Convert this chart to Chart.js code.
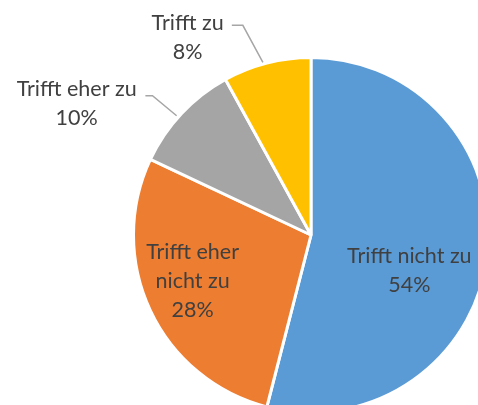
<!DOCTYPE html>
<html lang="de">
<head>
    <meta charset="UTF-8">
    <title>Kreisdiagramm</title>
    <script src="https://cdn.jsdelivr.net/npm/chart.js"></script>
    <style>
        html, body {
            margin: 0;
            padding: 0;
            width: 478px;
            height: 405px;
            overflow: hidden;
            background: #ffffff;
        }

        .chart-box {
            position: absolute;
            left: 0;
            top: 0;
            width: 500px;
            height: 420px;
        }
    </style>
</head>
<body>
<div class="chart-box">
    <canvas id="pieChart"></canvas>
</div>

<script>
    const categories = ['Trifft nicht zu', 'Trifft eher nicht zu', 'Trifft eher zu', 'Trifft zu'];
    const values = [54, 28, 10, 8];
    const colors = ['#5B9BD5', '#ED7D31', '#A5A5A5', '#FFC000'];

    // label lines and where they sit, in units of the pie radius
    const labelLines = [
        ['Trifft nicht zu', '54%'],
        ['Trifft eher', 'nicht zu', '28%'],
        ['Trifft eher zu', '10%'],
        ['Trifft zu', '8%']
    ];
    const labelPos = [[0.554, 0.203], [-0.667, 0.26], [-1.32, -0.74], [-0.695, -1.113]];
    // leader lines: [start, knee, end] for the outside labels
    const leaders = [null, null,
        [[-0.933, -0.785], [-0.893, -0.785], [-0.757, -0.672]],
        [[-0.446, -1.181], [-0.384, -1.181], [-0.271, -0.972]]
    ];

    const labelPlugin = {
        id: 'pieLabels',
        afterDatasetsDraw(chart) {
            const ctx = chart.ctx;
            const arcs = chart.getDatasetMeta(0).data;
            const cx = arcs[0].x, cy = arcs[0].y, r = arcs[0].outerRadius;
            ctx.save();

            ctx.strokeStyle = '#A6A6A6';
            ctx.lineWidth = 1.5;
            leaders.forEach(l => {
                if (!l) return;
                ctx.beginPath();
                ctx.moveTo(cx + l[0][0] * r, cy + l[0][1] * r);
                ctx.lineTo(cx + l[1][0] * r, cy + l[1][1] * r);
                ctx.lineTo(cx + l[2][0] * r, cy + l[2][1] * r);
                ctx.stroke();
            });

            ctx.fillStyle = '#404040';
            ctx.font = '21.5px Lato, sans-serif';
            ctx.textAlign = 'center';
            ctx.textBaseline = 'middle';
            const lineH = 29;
            labelLines.forEach((lines, i) => {
                const x = cx + labelPos[i][0] * r;
                const y = cy + labelPos[i][1] * r;
                const y0 = y - (lines.length - 1) * lineH / 2;
                lines.forEach((t, j) => ctx.fillText(t, x, y0 + j * lineH));
            });
            ctx.restore();
        }
    };

    new Chart(document.getElementById('pieChart'), {
        type: 'pie',
        data: {
            labels: categories,
            datasets: [{
                data: values,
                backgroundColor: colors,
                borderColor: '#ffffff',
                borderWidth: 3
            }]
        },
        options: {
            responsive: true,
            maintainAspectRatio: false,
            animation: false,
            layout: { padding: { left: 132, top: 56, right: 10, bottom: 6 } },
            plugins: {
                legend: { display: false },
                tooltip: { enabled: false }
            }
        },
        plugins: [labelPlugin]
    });
</script>
</body>
</html>
